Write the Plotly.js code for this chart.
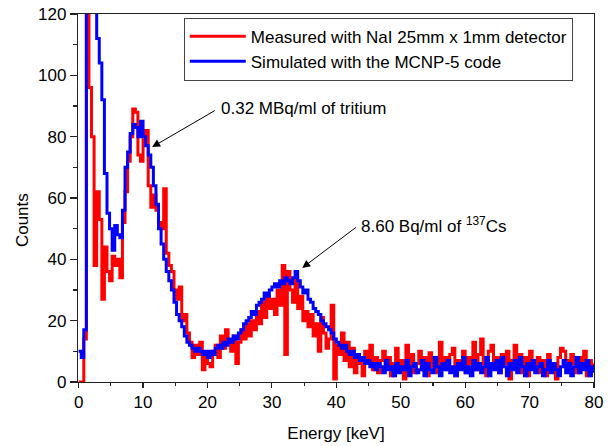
<!DOCTYPE html>
<html>
<head>
<meta charset="utf-8">
<script src="https://cdn.plot.ly/plotly-3.0.1.min.js"></script>
<style>
  html, body { margin: 0; padding: 0; background: #ffffff; }
  #chart { width: 608px; height: 446px; }
</style>
</head>
<body>
<div id="chart"></div>
<script>
// Channel width of the spectra (keV per bin)
const binWidthKeV = 0.4;

// Measured with NaI 25mm x 1mm detector (counts per bin, 0 - 80 keV)
const measuredCounts = [
  0, 0, 14, 130, 96, 80, 38, 62, 53, 27,
  44, 36, 33, 41, 38, 40, 34, 52, 62, 72,
  80, 89, 88, 74, 72, 79, 82, 64, 57, 61,
  56, 52, 50, 63, 42, 38, 36, 30, 27, 31,
  20, 22, 16, 13, 8, 12, 9, 13, 4, 9,
  6, 5, 10, 12, 8, 15, 11, 17, 13, 10,
  15, 6, 13, 17, 14, 19, 15, 20, 17, 23,
  19, 26, 21, 28, 24, 27, 22, 30, 25, 38,
  9, 36, 30, 26, 34, 24, 28, 20, 23, 18,
  22, 15, 19, 10, 21, 16, 11, 14, 25, 1,
  12, 9, 16, 7, 13, 5, 11, 3, 9, 6,
  2, 10, 6, 12, 4, 8, 3, 7, 10, 5,
  8, 2, 6, 11, 4, 7, 1, 12, 5, 9,
  3, 6, 10, 4, 8, 2, 9.5, 5, 7, 3,
  13, 6, 8, 4, 9, 11, 2, 7, 5, 10,
  3, 8, 6, 13, 4, 9, 14, 6, 2, 10,
  12, 5, 8, 3, 9, 6, 10, 1, 7, 12,
  5, 9, 3, 8, 2, 10, 6, 4, 8, 3,
  7, 2, 9, 5, 6, 1, 8, 11, 10, 7,
  4, 9, 6, 3, 8, 5, 10, 2, 7, 4,
  6
];

// Simulated with the MCNP-5 code (counts per bin, 0 - 80 keV)
const simulatedCounts = [
  10, 8, 17, 170, 200, 190, 150, 112, 104, 92,
  68, 55, 50, 43, 51, 48, 47, 56, 70, 75,
  81, 84, 83, 80, 85, 80, 77, 74, 70, 64,
  58, 50, 45, 40, 36, 33, 30, 26, 22, 20,
  18, 15, 13, 12, 11, 10, 11, 10, 9, 10,
  8, 10, 9, 11, 12, 11, 13, 12, 14, 13,
  15, 14, 16, 17, 19, 20, 21, 23, 22, 25,
  26, 27, 29, 28, 30, 31, 32, 31, 33, 32,
  34, 33, 32, 34, 36, 33, 31, 29, 30, 27,
  26, 24, 23, 22, 20, 19, 18, 17, 16, 14,
  13, 12, 11, 12, 10, 9, 10, 8, 9, 7,
  8, 6, 7, 5, 6, 4, 6, 5, 3, 7,
  4, 5, 2, 6, 3, 5, 4, 7, 2, 5,
  6, 3, 4, 7, 2, 6, 4, 3, 8, 5,
  2, 6, 4, 7, 3, 5, 2, 6, 4, 8,
  3, 5, 2, 7, 4, 6, 3, 5, 8, 2,
  6, 4, 7, 3, 8, 5, 2, 6, 4, 7,
  3, 8, 5, 2, 6, 4, 7, 3, 5, 6,
  2, 4, 7, 3, 6, 4, 2, 5, 7, 3,
  6, 2, 5, 8, 3, 6, 4, 7, 2, 5,
  3
];

const seriesNames = [
  'Measured with NaI 25mm x 1mm detector',
  'Simulated with the MCNP-5 code'
];

const xTitle = 'Energy [keV]';
const yTitle = 'Counts';
const label1 = '0.32 MBq/ml of tritium';
const label2 = '8.60 Bq/ml of <sup>137</sup>Cs';

const energyMeasured = measuredCounts.map((_, i) => +(i * binWidthKeV).toFixed(1));
const energySimulated = simulatedCounts.map((_, i) => +(i * binWidthKeV).toFixed(1));

const FONT = 'Arial, "Liberation Sans", sans-serif';

const traces = [
  {
    x: energyMeasured, y: measuredCounts, name: seriesNames[0],
    type: 'scatter', mode: 'lines',
    line: { color: '#ff0000', width: 3, shape: 'hv' }
  },
  {
    x: energySimulated, y: simulatedCounts, name: seriesNames[1],
    type: 'scatter', mode: 'lines',
    line: { color: '#0000ff', width: 3, shape: 'hv' }
  }
];

const axisCommon = {
  showgrid: false, zeroline: false,
  showline: true, mirror: true, linecolor: '#222', linewidth: 1.2,
  ticks: 'outside', tickcolor: '#222', tickwidth: 1.2,
  tickfont: { family: FONT, size: 17, color: '#000' }
};

const layout = {
  width: 608, height: 446,
  margin: { l: 78, r: 14, t: 14, b: 64 },
  paper_bgcolor: '#ffffff', plot_bgcolor: '#ffffff',
  font: { family: FONT, size: 17, color: '#000' },
  showlegend: true,
  legend: {
    x: 0.205, y: 0.99, xanchor: 'left', yanchor: 'top',
    bgcolor: '#ffffff', bordercolor: '#444', borderwidth: 1,
    font: { family: FONT, size: 17, color: '#000' },
    itemwidth: 56, entrywidth: 358, entrywidthmode: 'pixels',
    tracegroupgap: 0
  },
  xaxis: Object.assign({}, axisCommon, {
    range: [-0.1, 80], dtick: 10, tick0: 0, ticklen: 5, ticklabelstandoff: -1,
    minor: { dtick: 5, ticklen: 3, ticks: 'outside', tickcolor: '#222', showgrid: false },
    title: { text: xTitle, font: { family: FONT, size: 17, color: '#000' }, standoff: 16 }
  }),
  yaxis: Object.assign({}, axisCommon, {
    range: [0, 120], dtick: 20, tick0: 0, ticklen: 7,
    minor: { dtick: 10, ticklen: 4, ticks: 'outside', tickcolor: '#222', showgrid: false }
  }),
  annotations: [
    { x: 11.4, y: 76.6, xref: 'x', yref: 'y', text: label1, showarrow: true,
      ax: 67, ay: -39, xanchor: 'left', yanchor: 'middle', startstandoff: 5,
      arrowhead: 2, arrowsize: 1.6, arrowwidth: 1, arrowcolor: '#000',
      font: { family: FONT, size: 17, color: '#000' } },
    { x: 34.7, y: 37.2, xref: 'x', yref: 'y', text: label2, showarrow: true,
      ax: 57, ay: -43, xanchor: 'left', yanchor: 'middle', startstandoff: 4,
      arrowhead: 2, arrowsize: 1.6, arrowwidth: 1, arrowcolor: '#000',
      font: { family: FONT, size: 17, color: '#000' } },
    { x: -0.1085, y: 0.44, xref: 'paper', yref: 'paper', text: yTitle, showarrow: false,
      textangle: -90, xanchor: 'center', yanchor: 'middle',
      font: { family: FONT, size: 17, color: '#000' } }
  ]
};

Plotly.newPlot('chart', traces, layout, { displayModeBar: false, staticPlot: true });
</script>
</body>
</html>
